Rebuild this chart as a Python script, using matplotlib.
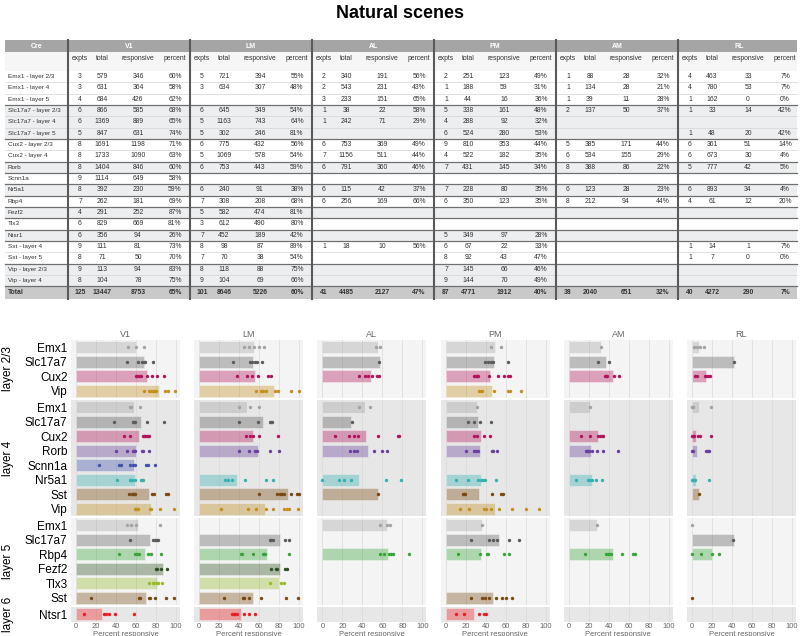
import matplotlib
matplotlib.use('Agg')
import matplotlib.pyplot as plt
from matplotlib.patches import Rectangle

plt.rcParams['font.family'] = ['Liberation Sans', 'DejaVu Sans']

areas = ['V1', 'LM', 'AL', 'PM', 'AM', 'RL']
cre_rows = ['Emx1 - layer 2/3', 'Emx1 - layer 4', 'Emx1 - layer 5',
            'Slc17a7 - layer 2/3', 'Slc17a7 - layer 4', 'Slc17a7 - layer 5',
            'Cux2 - layer 2/3', 'Cux2 - layer 4', 'Rorb', 'Scnn1a', 'Nr5a1',
            'Rbp4', 'Fezf2', 'Tlx3', 'Ntsr1', 'Sst - layer 4', 'Sst - layer 5',
            'Vip - layer 2/3', 'Vip - layer 4']
# shading group of each table row (alternates by Cre line)
row_group = [0, 0, 0, 1, 1, 1, 2, 2, 3, 4, 5, 6, 7, 8, 9, 10, 10, 11, 11]

# (expts, total, responsive, percent), None = not recorded
table_v1 = [(3, 579, 346, 60), (3, 631, 364, 58), (4, 684, 426, 62), (6, 866, 585, 68),
            (6, 1369, 889, 65), (5, 847, 631, 74), (8, 1691, 1198, 71), (8, 1733, 1090, 63),
            (8, 1404, 846, 60), (9, 1114, 649, 58), (8, 392, 230, 59), (7, 262, 181, 69),
            (4, 291, 252, 87), (6, 829, 669, 81), (6, 356, 94, 26), (9, 111, 81, 73),
            (8, 71, 50, 70), (9, 113, 94, 83), (8, 104, 78, 75)]
table_lm = [(5, 721, 394, 55), (3, 634, 307, 48), None, (6, 645, 349, 54),
            (5, 1163, 743, 64), (5, 302, 246, 81), (6, 775, 432, 56), (5, 1069, 578, 54),
            (6, 753, 443, 59), None, (6, 240, 91, 38), (7, 308, 208, 68),
            (5, 582, 474, 81), (3, 612, 490, 80), (7, 452, 189, 42), (8, 98, 87, 89),
            (7, 70, 38, 54), (8, 118, 88, 75), (9, 104, 69, 66)]
table_al = [(2, 340, 191, 56), (2, 543, 231, 43), (3, 233, 151, 65), (1, 38, 22, 58),
            (1, 242, 71, 29), None, (6, 753, 369, 49), (7, 1156, 511, 44),
            (6, 791, 360, 46), None, (6, 115, 42, 37), (6, 256, 169, 66),
            None, None, None, (1, 18, 10, 56), None, None, None]
table_pm = [(2, 251, 123, 49), (1, 188, 59, 31), (1, 44, 16, 36), (5, 338, 161, 48),
            (4, 288, 92, 32), (6, 524, 280, 53), (9, 810, 353, 44), (4, 522, 182, 35),
            (7, 431, 145, 34), None, (7, 228, 80, 35), (6, 350, 123, 35),
            None, None, (5, 349, 97, 28), (6, 67, 22, 33), (8, 92, 43, 47),
            (7, 145, 66, 46), (9, 144, 70, 49)]
table_am = [(1, 88, 28, 32), (1, 134, 28, 21), (1, 39, 11, 28), (2, 137, 50, 37),
            None, None, (5, 385, 171, 44), (6, 534, 155, 29), (8, 388, 86, 22), None,
            (6, 123, 28, 23), (8, 212, 94, 44), None, None, None, None, None, None, None]
table_rl = [(4, 463, 33, 7), (4, 780, 53, 7), (1, 162, 0, 0), (1, 33, 14, 42),
            None, (1, 48, 20, 42), (6, 361, 51, 14), (6, 673, 30, 4), (5, 777, 42, 5),
            None, (6, 893, 34, 4), (4, 61, 12, 20), None, None, None, (1, 14, 1, 7),
            (1, 7, 0, 0), None, None]
tables = [table_v1, table_lm, table_al, table_pm, table_am, table_rl]
totals = [(125, 13447, 8753, 65), (101, 8646, 5226, 60), (41, 4485, 2127, 47),
          (87, 4771, 1912, 40), (38, 2040, 651, 32), (40, 4272, 290, 7)]
sub_cols = ['expts', 'total', 'responsive', 'percent']

# chart layout: layers, Cre lines per layer, matching table row
layers = ['layer 2/3', 'layer 4', 'layer 5', 'layer 6']
layer_cre = [['Emx1', 'Slc17a7', 'Cux2', 'Vip'],
             ['Emx1', 'Slc17a7', 'Cux2', 'Rorb', 'Scnn1a', 'Nr5a1', 'Sst', 'Vip'],
             ['Emx1', 'Slc17a7', 'Rbp4', 'Fezf2', 'Tlx3', 'Sst'],
             ['Ntsr1']]
layer_rows = [[0, 3, 6, 17], [1, 4, 7, 8, 9, 10, 15, 18], [2, 5, 11, 12, 13, 16], [14]]

cre_colors = {'Emx1': '#a3a3a3', 'Slc17a7': '#5c5c5c', 'Cux2': '#b3145d',
              'Vip': '#c38f1d', 'Rorb': '#6a3f9f', 'Scnn1a': '#4352b0',
              'Nr5a1': '#38b0b0', 'Sst': '#7a4912', 'Rbp4': '#39a539',
              'Fezf2': '#2f5020', 'Tlx3': '#9aba2d', 'Ntsr1': '#ee1c25'}

# per-experiment percent responsive, in chart row order
dots_v1 = [[52, 60, 68], [51, 62, 66, 68, 69, 77], [60, 61, 63, 65, 71, 76, 81, 88],
           [68, 73, 75, 77, 79, 80, 89, 92, 99],
           [54, 55, 64], [38, 57, 58, 59, 71, 88], [48, 54, 67, 68, 69, 71, 72, 73],
           [40, 51, 57, 58, 59, 66, 67, 73], [23, 43, 45, 54, 57, 59, 70, 72, 79],
           [41, 54, 55, 56, 59, 65, 66, 67], [53, 56, 57, 58, 59, 76, 78, 90, 92],
           [59, 60, 61, 62, 74, 75, 84, 98],
           [51, 55, 60, 84], [54, 77, 79, 81, 82], [43, 59, 61, 63, 72, 75, 85],
           [80, 81, 85, 91], [73, 77, 78, 81, 82, 86], [15, 63, 64, 73, 74, 79, 90, 98],
           [8, 28, 30, 33, 39, 58]]
dots_lm = [[45, 50, 55, 60, 65], [34, 51, 53, 56, 58, 63], [38, 48, 53, 59, 69, 72],
           [57, 62, 64, 67, 76, 79, 92, 100],
           [40, 51, 60], [40, 59, 71, 72, 73], [47, 51, 54, 60, 79],
           [40, 50, 56, 58, 71, 80], [], [26, 29, 33, 46, 67, 74],
           [60, 78, 81, 83, 85, 92, 98, 100], [22, 49, 57, 67, 74, 85, 88, 90, 99],
           [], [71, 72, 74, 86, 90], [42, 43, 54, 64, 65, 66, 90],
           [72, 77, 78, 86, 88], [71, 82, 85], [25, 44, 45, 50, 62, 87, 99],
           [33, 35, 36, 38, 45, 50, 56]]
dots_al = [[54, 58], [57], [37, 43, 46, 50, 55, 57], [],
           [37, 48], [30], [13, 27, 32, 36, 56, 76, 77], [28, 32, 35, 52, 60, 65], [],
           [0, 17, 22, 29, 64, 79], [56], [],
           [58, 65, 68], [], [58, 62, 67, 69, 71, 87], [], [], [],
           []]
dots_pm = [[45, 55], [39, 42, 45, 47, 62], [28, 30, 31, 32, 43, 52, 58, 62, 64],
           [33, 35, 36, 48, 62, 64, 75],
           [31], [22, 28, 34, 45], [28, 31, 38, 44], [20, 28, 30, 32, 46, 47, 51], [],
           [10, 22, 32, 35, 37, 39, 50], [17, 18, 19, 46, 55, 57],
           [14, 23, 38, 40, 45, 53, 66, 80, 93],
           [36], [25, 43, 47, 51, 63, 73], [12, 34, 41, 42, 58, 63], [], [],
           [25, 36, 39, 43, 50, 56, 60, 66],
           [10, 18, 33, 38, 40]]
dots_am = [[32], [29, 40], [36, 37, 38, 45, 50], [],
           [21], [], [12, 21, 29, 31, 33, 34], [17, 18, 19, 20, 23, 28, 34, 49], [],
           [7, 19, 21, 23, 27, 33], [], [],
           [28], [], [16, 37, 39, 40, 42, 53, 64, 66], [], [], [],
           []]
dots_rl = [[2, 5, 8, 12], [42], [3, 5, 13, 14, 16, 18], [],
           [0, 0, 1, 19], [], [0, 1, 2, 6, 8, 19], [0, 1, 14, 16, 17], [],
           [0, 1, 1, 2, 3, 17], [7], [],
           [0], [41], [0, 9, 20, 27], [], [], [0],
           []]
dots_all = [dots_v1, dots_lm, dots_al, dots_pm, dots_am, dots_rl]

W, H = 800, 636
fig = plt.figure(figsize=(W / 100, H / 100), dpi=100)
fig.text(0.5, 1 - 13 / H, 'Natural scenes', ha='center', va='center',
         fontsize=13, fontweight='bold')

# ---- table, drawn in a pixel-unit axes ----
tax = fig.add_axes([0, 0, 1, 1])
tax.set_xlim(0, W)
tax.set_ylim(H, 0)
tax.axis('off')

t_left, t_right = 5, 797
cre_w, reg_w = 63, 122
sub_dx = [12, 34, 70, 107]
h1_top, h1_bot, h2_bot = 40, 52, 71
row_h = 11.33
tot_top = h2_bot + len(cre_rows) * row_h
tot_bot = tot_top + 12.5
reg_x = [t_left + cre_w + reg_w * i for i in range(len(areas))]
txt = dict(fontsize=4.9, color='#333333', va='center')

tax.add_patch(Rectangle((t_left, h1_top), t_right - t_left, h1_bot - h1_top, color='#a5a5a5', lw=0))
tax.add_patch(Rectangle((t_left, h1_bot), t_right - t_left, h2_bot - h1_bot, color='#f6f6f6', lw=0))
tax.text((t_left + reg_x[0]) / 2, (h1_top + h1_bot) / 2, 'Cre', ha='center',
         fontsize=5, color='white', fontweight='bold', va='center')
for i, a in enumerate(areas):
    tax.text(reg_x[i] + reg_w / 2, (h1_top + h1_bot) / 2, a, ha='center',
             fontsize=5, color='white', fontweight='bold', va='center')
    for k, s in enumerate(sub_cols):
        tax.text(reg_x[i] + sub_dx[k], 58, s, ha='center', **txt)

for r, name in enumerate(cre_rows):
    y0 = h2_bot + r * row_h
    shade = '#eceef0' if row_group[r] % 2 else 'white'
    tax.add_patch(Rectangle((t_left, y0), t_right - t_left, row_h, color=shade, lw=0))
    tax.text(t_left + 3, y0 + row_h / 2, name, ha='left', fontsize=4.6,
             color='#333333', va='center')
    for i in range(len(areas)):
        vals = tables[i][r]
        if vals is None:
            continue
        labels = [str(vals[0]), str(vals[1]), str(vals[2]), '%d%%' % vals[3]]
        for k, lab in enumerate(labels):
            tax.text(reg_x[i] + sub_dx[k], y0 + row_h / 2, lab, ha='center', **txt)
    if r > 0:
        new_group = row_group[r] != row_group[r - 1]
        tax.plot([t_left, t_right], [y0, y0], color='#707070' if new_group else '#d4d4d4',
                 lw=0.9 if new_group else 0.5)

tax.add_patch(Rectangle((t_left, tot_top), t_right - t_left, tot_bot - tot_top, color='#c9c9c9', lw=0))
tax.plot([t_left, t_right], [tot_top, tot_top], color='#707070', lw=0.9)
tax.text(t_left + 3, (tot_top + tot_bot) / 2, 'Total', ha='left', fontweight='bold', **txt)
for i in range(len(areas)):
    vals = totals[i]
    labels = [str(vals[0]), str(vals[1]), str(vals[2]), '%d%%' % vals[3]]
    for k, lab in enumerate(labels):
        tax.text(reg_x[i] + sub_dx[k], (tot_top + tot_bot) / 2, lab, ha='center',
                 fontweight='bold', **txt)
for x in reg_x:
    tax.plot([x, x], [h1_top, tot_bot], color='#5a5a5a', lw=1.5)

# ---- faceted bar chart ----
p_left, p_step, p_w = 71, 123.2, 109
f_top, unit, gap = 340, 14.5, 2
facet_bg = ['#f3f4f3', '#e6e7e6', '#f3f4f3', '#e6e7e6']

top = f_top
for j, layer in enumerate(layers):
    n = len(layer_cre[j])
    h = n * unit
    for i, area in enumerate(areas):
        left = p_left + i * p_step
        ax = fig.add_axes([left / W, 1 - (top + h) / H, p_w / W, h / H])
        ax.set_facecolor(facet_bg[j])
        ax.set_axisbelow(True)
        ax.grid(axis='x', color='#d9d9d9', lw=0.5)
        for sp in ax.spines.values():
            sp.set_visible(False)
        ax.set_xlim(-5, 104)
        ax.set_ylim(n - 0.5, -0.5)
        ax.set_xticks([0, 20, 40, 60, 80, 100])
        ax.set_yticks(range(n))
        ax.tick_params(length=0)
        offset = sum(len(c) for c in layer_cre[:j])
        for k, cre in enumerate(layer_cre[j]):
            col = cre_colors[cre]
            vals = tables[i][layer_rows[j][k]]
            if vals is not None:
                ax.barh(k, vals[3], height=0.8, color=col, alpha=0.37,
                        edgecolor='white', lw=0.6, zorder=2)
            d = dots_all[i][offset + k]
            if d:
                ax.scatter(d, [k] * len(d), s=6, color=col, lw=0, zorder=3)
        if i == 0:
            ax.set_yticklabels(layer_cre[j], fontsize=8.5, color='black')
            ax.tick_params(axis='y', pad=2.5)
        else:
            ax.set_yticklabels([])
        if j == len(layers) - 1:
            ax.tick_params(axis='x', labelsize=5.5, labelcolor='#666666', pad=1)
            ax.set_xlabel('Percent responsive', fontsize=5.5, color='#666666', labelpad=0.5)
        else:
            ax.set_xticklabels([])
        if j == 0:
            ax.set_title(area, fontsize=6.5, color='#666666', pad=2.5)
    fig.text(8 / W, 1 - (top + h / 2) / H, layer, rotation=90, ha='center',
             va='center', fontsize=8.5)
    top += h + gap

fig.savefig('out.png', dpi=100)
